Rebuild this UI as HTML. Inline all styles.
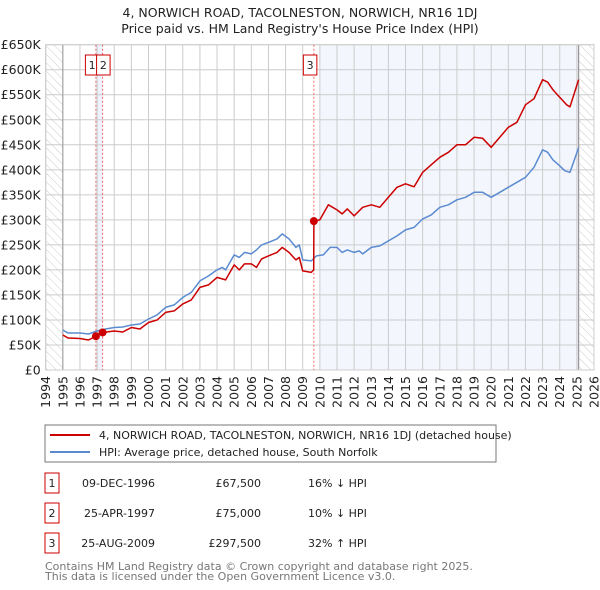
<!DOCTYPE html>
<html><head><meta charset="utf-8">
<style>
body{margin:0;background:#fff;font-family:"Liberation Sans","DejaVu Sans",sans-serif;}
#wrap{position:relative;width:600px;height:590px;overflow:hidden;}
svg text{font-family:"DejaVu Sans","Liberation Sans",sans-serif;}
</style></head>
<body>
<div id="wrap">
<svg id="chart" width="600" height="590"></svg>
</div>
<script>
const hpiDates=[1995.0,1995.3,1996,1996.5,1997,1997.5,1998,1998.5,1999,1999.5,2000,2000.5,2001,2001.5,2002,2002.5,2003,2003.5,2004,2004.3,2004.5,2005,2005.3,2005.6,2006,2006.3,2006.6,2007,2007.5,2007.8,2008.2,2008.6,2008.8,2009,2009.5,2009.8,2010.2,2010.6,2011,2011.3,2011.6,2012,2012.3,2012.5,2013,2013.5,2014,2014.5,2015,2015.5,2016,2016.5,2017,2017.5,2018,2018.5,2019,2019.5,2020,2020.5,2021,2021.5,2022,2022.5,2023,2023.3,2023.6,2024,2024.3,2024.6,2025.1];
const hpiValues=[80,74,74,72,78,82,85,86,90,92,102,110,125,130,145,155,178,188,200,205,200,230,225,235,232,240,250,255,262,272,262,245,250,220,218,228,230,245,245,235,240,235,238,232,245,248,258,268,280,285,302,310,325,330,340,345,355,355,345,355,365,375,385,405,440,435,420,408,398,395,444];
const redDates=[1995.0,1995.3,1996,1996.5,1996.93,1997.32,1998,1998.5,1999,1999.5,2000,2000.5,2001,2001.5,2002,2002.5,2003,2003.5,2004,2004.3,2004.5,2005,2005.3,2005.6,2006,2006.3,2006.6,2007,2007.5,2007.8,2008.2,2008.6,2008.8,2009,2009.5,2009.64,2009.65,2010,2010.5,2011,2011.3,2011.6,2012,2012.5,2013,2013.5,2014,2014.5,2015,2015.5,2016,2016.5,2017,2017.5,2018,2018.5,2019,2019.5,2020,2020.5,2021,2021.5,2022,2022.5,2023,2023.3,2023.6,2024,2024.4,2024.6,2025.1];
const redValues=[70,64,63,60,67.5,75,78,76,85,82,95,100,115,118,132,140,165,170,185,182,180,210,200,212,212,205,222,228,235,245,235,220,225,198,195,200,297.5,300,330,320,312,322,308,325,330,325,345,365,372,366,395,410,425,435,450,450,465,463,445,465,485,495,530,542,580,575,560,545,530,526,580];
const saleDates=[1996.93,1997.32,2009.65];
const saleValues=[67.5,75,297.5];
const saleLabels=["1","2","3"];
const yTicks=[0,50,100,150,200,250,300,350,400,450,500,550,600,650];
const yTickLabels=["£0","£50K","£100K","£150K","£200K","£250K","£300K","£350K","£400K","£450K","£500K","£550K","£600K","£650K"];
const xYears=[1994,1995,1996,1997,1998,1999,2000,2001,2002,2003,2004,2005,2006,2007,2008,2009,2010,2011,2012,2013,2014,2015,2016,2017,2018,2019,2020,2021,2022,2023,2024,2025,2026];

const NS="http://www.w3.org/2000/svg";
const svg=document.getElementById('chart');
const X0=45.7,X1=594,Y0=370,Y1=44.7;
const xs=t=>X0+(t-1994)/32*(X1-X0);
const ys=v=>Y0+(v/650)*(Y1-Y0);
function mk(tag,attrs,parent){const e=document.createElementNS(NS,tag);for(const k in attrs)e.setAttribute(k,attrs[k]);(parent||svg).appendChild(e);return e;}

const defs=mk('defs',{});
const pat=mk('pattern',{id:'hatch',width:6,height:6,patternUnits:'userSpaceOnUse',patternTransform:'rotate(-45)'},defs);
mk('line',{x1:0,y1:0,x2:0,y2:6,stroke:'#ccc','stroke-width':1},pat);

let t=mk('text',{x:300,y:17,'text-anchor':'middle','font-size':12.5,fill:'#222'});t.textContent="4, NORWICH ROAD, TACOLNESTON, NORWICH, NR16 1DJ";

t=mk('text',{x:300,y:33,'text-anchor':'middle','font-size':12.5,fill:'#222'});t.textContent="Price paid vs. HM Land Registry's House Price Index (HPI)";


let r=mk('rect',{x:xs(2010),y:Y1,width:xs(2025.1)-xs(2010),height:Y0-Y1,fill:'#eef2fc',opacity:0.7});

r=mk('rect',{x:xs(saleDates[0]),y:Y1,width:xs(saleDates[1])-xs(saleDates[0]),height:Y0-Y1,fill:'#eef2fc'});

r=mk('rect',{x:X0,y:Y1,width:xs(1995)-X0,height:Y0-Y1,fill:'url(#hatch)'});

r=mk('rect',{x:xs(2025.1),y:Y1,width:X1-xs(2025.1),height:Y0-Y1,fill:'url(#hatch)'});


yTicks.forEach((v,i)=>{
  const l=mk('line',{x1:X0,x2:X1,y1:ys(v),y2:ys(v),stroke:'#ccc','stroke-width':1});
  
  const tx=mk('text',{x:X0-5,y:ys(v)+4.5,'text-anchor':'end','font-size':12.5,fill:'#222'});
  tx.textContent=yTickLabels[i];
  
});
xYears.forEach(yr=>{
  const l=mk('line',{x1:xs(yr),x2:xs(yr),y1:Y1,y2:Y0,stroke:'#ccc','stroke-width':1});
  
  const tx=mk('text',{x:0,y:0,'text-anchor':'end','font-size':12.5,fill:'#222',transform:`translate(${xs(yr)+4.5},${Y0+6}) rotate(-90)`});
  tx.textContent=yr;
  
});
let ax=mk('line',{x1:xs(1995),x2:xs(1995),y1:Y1,y2:Y0,stroke:'#999','stroke-width':1});

ax=mk('line',{x1:xs(2025.1),x2:xs(2025.1),y1:Y1,y2:Y0,stroke:'#999','stroke-width':1.3});

ax=mk('rect',{x:X0,y:Y1,width:X1-X0,height:Y0-Y1,fill:'none',stroke:'#ccc'});


saleDates.forEach((d,i)=>{
  const l=mk('line',{x1:xs(d),x2:xs(d),y1:Y1,y2:Y0,stroke:'#e66','stroke-width':1,'stroke-dasharray':'2,2'});
  
});
const boxOff=[-10.5,-6,-10.5];
saleDates.forEach((d,i)=>{
  const bx=xs(d)+boxOff[i];
  const b=mk('rect',{x:bx,y:55,width:13.5,height:20,fill:'#fff',stroke:'#c00','stroke-width':1});
  
  const tx=mk('text',{x:bx+6.75,y:69,'text-anchor':'middle','font-size':11,fill:'#222'});
  tx.textContent=saleLabels[i];
  
});

function path(dates,vals){return dates.map((d,i)=>(i?'L':'M')+xs(d).toFixed(1)+','+ys(vals[i]).toFixed(1)).join(' ');}
let p=mk('path',{d:path(hpiDates,hpiValues),fill:'none',stroke:'#5b8bd0','stroke-width':1.5,'stroke-linejoin':'round'});

p=mk('path',{d:path(redDates,redValues),fill:'none',stroke:'#cc0000','stroke-width':1.5,'stroke-linejoin':'round'});

saleDates.forEach((d,i)=>{
  const c=mk('circle',{cx:xs(d),cy:ys(saleValues[i]),r:4,fill:'#cc0000'});
  
});

let lg=mk('rect',{x:45,y:425,width:451,height:37,fill:'#fff',stroke:'#777','stroke-width':1});

let ll=mk('line',{x1:50,x2:90,y1:435,y2:435,stroke:'#cc0000','stroke-width':2});

let lt=mk('text',{x:99,y:439,'font-size':11,fill:'#222'});lt.textContent="4, NORWICH ROAD, TACOLNESTON, NORWICH, NR16 1DJ (detached house)";

ll=mk('line',{x1:50,x2:90,y1:452,y2:452,stroke:'#5b8bd0','stroke-width':2});

lt=mk('text',{x:99,y:456,'font-size':11,fill:'#222'});lt.textContent="HPI: Average price, detached house, South Norfolk";


const tDates=["09-DEC-1996","25-APR-1997","25-AUG-2009"];
const tPrices=["£67,500","£75,000","£297,500"];
const tHpi=["16% ↓ HPI","10% ↓ HPI","32% ↑ HPI"];
[0,1,2].forEach(i=>{
  const cy=483+i*30;
  const b=mk('rect',{x:45,y:cy-10,width:14,height:20,fill:'#fff',stroke:'#c00'});
  
  let tx=mk('text',{x:52,y:cy+4,'text-anchor':'middle','font-size':11,fill:'#222'});tx.textContent=saleLabels[i];
  
  tx=mk('text',{x:155,y:cy+4,'text-anchor':'end','font-size':11,fill:'#222'});tx.textContent=tDates[i];
  
  tx=mk('text',{x:261,y:cy+4,'text-anchor':'end','font-size':11,fill:'#222'});tx.textContent=tPrices[i];
  
  tx=mk('text',{x:308,y:cy+4,'font-size':11,fill:'#222'});tx.textContent=tHpi[i];
  
});
let f=mk('text',{x:45,y:570,'font-size':11,fill:'#777'});f.textContent="Contains HM Land Registry data © Crown copyright and database right 2025.";

f=mk('text',{x:45,y:580,'font-size':11,fill:'#777'});f.textContent="This data is licensed under the Open Government Licence v3.0.";

</script>
</body></html>
